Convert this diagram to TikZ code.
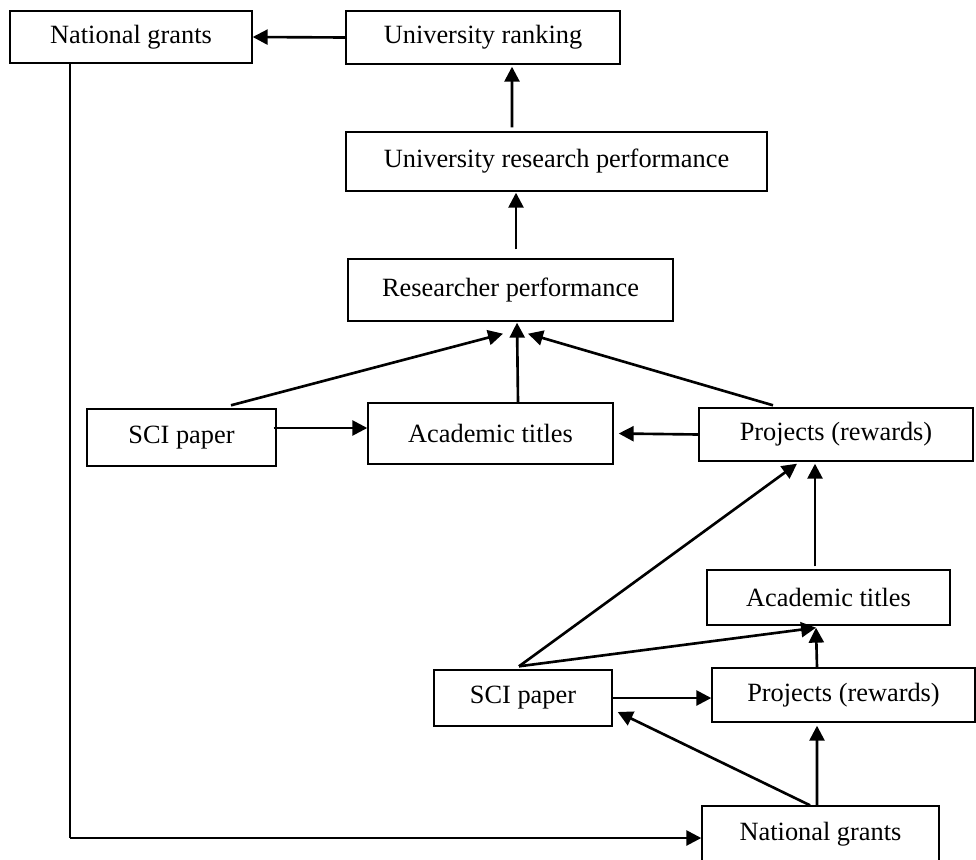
\documentclass[tikz,border=0pt]{standalone}
\usepackage{fontspec}
\setmainfont{Liberation Serif}
\usetikzlibrary{arrows.meta}

\begin{document}
\begin{tikzpicture}[
    box/.style={draw, line width=0.8pt, inner sep=0pt, minimum height=1.08cm,
        font=\fontsize{15}{18}\selectfont},
    arr/.style={line width=1.5pt, -{Triangle[length=8.5pt,width=8.5pt]}}
]

    % Page frame (keeps the margins of the figure)
    \useasboundingbox (0,0) rectangle (19.52,-17.18);

    % Upper chain: ranking and performance
    \node[box, minimum width=4.84cm, minimum height=1.04cm] (ngtop) at (2.62,-0.74) {National grants};
    \node[box, minimum width=5.48cm, minimum height=1.06cm] (rank) at (9.66,-0.75) {University ranking};
    \node[box, minimum width=8.42cm, minimum height=1.18cm] (unires) at (11.13,-3.23) {University research performance};
    \node[box, minimum width=6.50cm, minimum height=1.24cm] (resperf) at (10.21,-5.80) {Researcher performance};

    % Middle row
    \node[box, minimum width=3.78cm, minimum height=1.14cm] (scitop) at (3.63,-8.75) {SCI paper};
    \node[box, minimum width=4.90cm, minimum height=1.22cm] (titlestop) at (9.81,-8.67) {Academic titles};
    \node[box, minimum width=5.48cm, minimum height=1.06cm] (projtop) at (16.72,-8.69) {Projects (rewards)};

    % Lower cluster
    \node[box, minimum width=4.86cm, minimum height=1.10cm] (titlesbot) at (16.57,-11.95) {Academic titles};
    \node[box, minimum width=3.56cm, minimum height=1.12cm] (scibot) at (10.46,-13.96) {SCI paper};
    \node[box, minimum width=5.26cm] (projbot) at (16.87,-13.90) {Projects (rewards)};
    \node[box, minimum width=4.74cm, minimum height=1.12cm] (ngbot) at (16.41,-16.68) {National grants};

    % Top arrows
    \draw[arr] (rank.west) -- (ngtop.east);
    \draw[arr] ([xshift=-0.89cm,yshift=0.08cm]unires.north) -- ([xshift=0.58cm,yshift=-0.04cm]rank.south);
    \draw[arr] ([xshift=0.11cm,yshift=0.18cm]resperf.north) -- ([xshift=-0.81cm,yshift=-0.02cm]unires.south);

    % Into researcher performance
    \draw[arr] ([xshift=0.99cm,yshift=0.06cm]scitop.north) -- ([xshift=-0.15cm,yshift=-0.24cm]resperf.south);
    \draw[arr] ([xshift=0.55cm]titlestop.north) -- ([xshift=0.13cm,yshift=-0.02cm]resperf.south);
    \draw[arr] ([xshift=-1.26cm,yshift=0.04cm]projtop.north) -- ([xshift=0.35cm,yshift=-0.24cm]resperf.south);

    % Middle row arrows
    \draw[arr] ([xshift=-0.06cm,yshift=0.19cm]scitop.east) -- ([yshift=0.11cm]titlestop.west);
    \draw[arr] (projtop.west) -- ([xshift=0.1cm]titlestop.east);

    % Lower cluster arrows
    \coordinate (titlesin) at ([xshift=-0.25cm,yshift=-0.04cm]titlesbot.south);
    \coordinate (scifork) at ([xshift=-0.08cm,yshift=0.06cm]scibot.north);
    \draw[arr] ([xshift=-0.27cm,yshift=0.06cm]titlesbot.north) -- ([xshift=-0.42cm,yshift=-0.04cm]projtop.south);
    \draw[arr] (scifork) -- ([xshift=-0.78cm,yshift=-0.04cm]projtop.south);
    \draw[arr] (scifork) -- (titlesin);
    \draw[arr] ([xshift=-0.53cm]projbot.north) -- (titlesin);
    \draw[arr] (scibot.east) -- (scibot.east -| projbot.west);
    \draw[arr] ([xshift=-0.21cm]ngbot.north) -- ([xshift=0.1cm,yshift=-0.28cm]scibot.east);
    \draw[arr] ([xshift=-0.07cm]ngbot.north) -- ([xshift=-0.53cm,yshift=-0.06cm]projbot.south);

    % Feedback line from the top grants down to the bottom grants
    \coordinate (drop) at ([xshift=-1.22cm]ngtop.south);
    \coordinate (ngin) at ([yshift=-0.08cm]ngbot.west);
    \coordinate (bend) at (drop |- ngin);
    \draw[line width=0.8pt] (drop) -- (bend);
    \draw[arr] (bend) -- (ngin);

\end{tikzpicture}
\end{document}
